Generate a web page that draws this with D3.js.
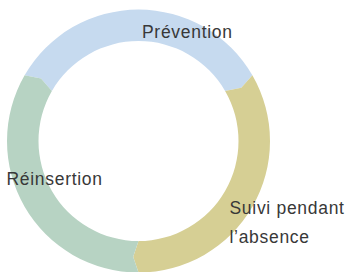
<!DOCTYPE html>
<html>
<head>
<meta charset="utf-8">
<script src="https://cdn.jsdelivr.net/npm/d3@7/dist/d3.min.js"></script>
<style>
  html, body { margin: 0; padding: 0; background: #fff; }
  svg { display: block; }
  text { font-family: "Liberation Sans", Arial, Helvetica, sans-serif; fill: #383838; }
</style>
</head>
<body>
<svg id="chart" width="347" height="272"></svg>
<script>
// ---- data ----
const categories = ["Prévention", "Suivi pendant l’absence", "Réinsertion"];
const values = [1, 1, 1];
const labelLines = [["Prévention"], ["Suivi pendant", "l’absence"], ["Réinsertion"]];
const colors = ["#c6daef", "#d6cf94", "#b7d3c3"];

// ---- layout ----
const W = 347, H = 272;
const cx = 138.5, cy = 141;
const rOuter = 131.5, rInner = 100;
const rMid = (rOuter + rInner) / 2;
const kink = 0.046; // chevron offset (radians)

const svg = d3.select("#chart");
const g = svg.append("g").attr("transform", `translate(${cx},${cy})`);

const pie = d3.pie().sort(null).value(d => d)
  .startAngle(-Math.PI / 3).endAngle(2 * Math.PI - Math.PI / 3);
const arcs = pie(values);

const color = d3.scaleOrdinal().domain(categories).range(colors);

function pt(r, a) { return [r * Math.sin(a), -r * Math.cos(a)]; }

function segPath(d) {
  const a0 = d.startAngle, a1 = d.endAngle;
  const p = d3.path();
  const o0 = pt(rOuter, a0);
  p.moveTo(o0[0], o0[1]);
  p.arc(0, 0, rOuter, a0 - Math.PI / 2, a1 - Math.PI / 2, false);
  const k1 = pt(rMid, a1 + kink);
  p.lineTo(k1[0], k1[1]);
  const i1 = pt(rInner, a1);
  p.lineTo(i1[0], i1[1]);
  p.arc(0, 0, rInner, a1 - Math.PI / 2, a0 - Math.PI / 2, true);
  const k0 = pt(rMid, a0 + kink);
  p.lineTo(k0[0], k0[1]);
  p.closePath();
  return p.toString();
}

g.selectAll("path.seg")
  .data(arcs)
  .join("path")
  .attr("class", "seg")
  .attr("d", segPath)
  .attr("fill", (d, i) => color(categories[i]));

// labels
const labelPos = [[142, 37.5], [229.5, 214], [6.5, 185]];
const lineH = 29;
const labels = svg.selectAll("text.lbl")
  .data(labelLines)
  .join("text")
  .attr("class", "lbl")
  .attr("x", (d, i) => labelPos[i][0])
  .attr("y", (d, i) => labelPos[i][1])
  .style("font-size", "17.5px")
  .style("letter-spacing", "0.7px");

labels.selectAll("tspan")
  .data((d, i) => d.map(t => ({ t, x: labelPos[i][0] })))
  .join("tspan")
  .attr("x", d => d.x)
  .attr("dy", (d, j) => j === 0 ? 0 : lineH)
  .text(d => d.t);
</script>
</body>
</html>
